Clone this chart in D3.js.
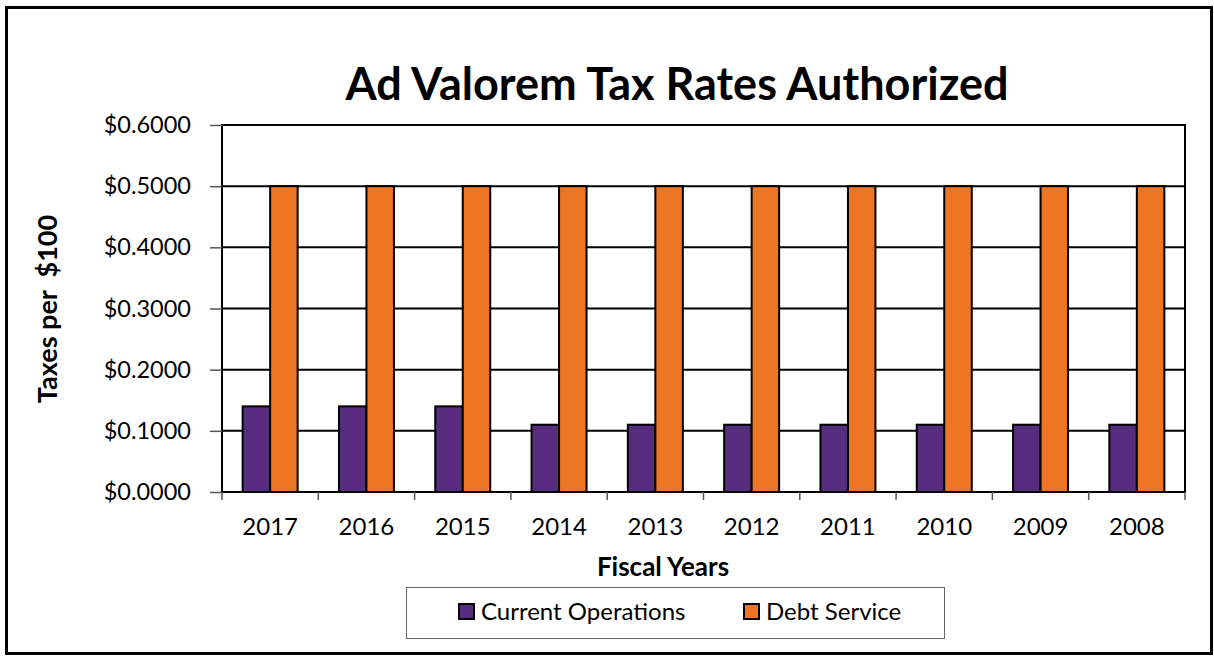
<!DOCTYPE html>
<html><head><meta charset="utf-8">
<script src="https://cdn.jsdelivr.net/npm/d3@7"></script>
<style>body{margin:0;background:#fff}svg{display:block}text{font-family:Lato,"Open Sans",sans-serif}</style>
</head><body><svg id="c" width="1214" height="656"></svg>
<script>
const categories = ["2017","2016","2015","2014","2013","2012","2011","2010","2009","2008"];
const currentOperations = [0.14,0.14,0.14,0.11,0.11,0.11,0.11,0.11,0.11,0.11];
const debtService = [0.50,0.50,0.50,0.50,0.50,0.50,0.50,0.50,0.50,0.50];
const seriesNames = ["Current Operations","Debt Service"];
const seriesColors = ["#562d7f","#ec7623"];
const yTicks = [0,0.1,0.2,0.3,0.4,0.5,0.6];

const svg = d3.select("#c");
// outer frame
svg.append("rect").attr("x",6.5).attr("y",7.5).attr("width",1205).attr("height",646)
  .attr("fill","none").attr("stroke","#000").attr("stroke-width",3);

const L=222,R=1185,T=125,B=492;
const x = d3.scaleBand().domain(categories).range([L,R]);
const y = d3.scaleLinear().domain([0,0.6]).range([B,T]);
const inner = d3.scaleBand().domain([0,1]).range([0,55]);

// gridlines
svg.append("g").selectAll("line").data(yTicks.slice(1)).join("line")
  .attr("x1",L).attr("x2",R).attr("y1",d=>y(d)).attr("y2",d=>y(d))
  .attr("stroke","#000").attr("stroke-width",2);

// bars
const series=[currentOperations,debtService];
series.forEach((vals,si)=>{
  svg.append("g").selectAll("rect").data(categories).join("rect")
    .attr("x",(c)=>x(c)+(x.bandwidth()-55)/2+inner(si))
    .attr("width",inner.bandwidth())
    .attr("y",(c,i)=>y(vals[i]))
    .attr("height",(c,i)=>B-y(vals[i]))
    .attr("fill",seriesColors[si]).attr("stroke","#000").attr("stroke-width",2);
});

// plot border
svg.append("rect").attr("x",L).attr("y",T).attr("width",R-L).attr("height",B-T)
  .attr("fill","none").attr("stroke","#000").attr("stroke-width",2);

// y axis
const yAxis = d3.axisLeft(y).tickValues(yTicks).tickFormat(d=>"$"+d3.format(".4f")(d)).tickSize(12).tickPadding(19);
const gy = svg.append("g").attr("transform",`translate(${L},0)`).call(yAxis);
gy.select(".domain").remove();
gy.selectAll(".tick line").attr("stroke","#555").attr("stroke-width",1.5);
gy.selectAll("text").attr("font-size",23.5).attr("fill","#000");

// x axis
const xAxis = d3.axisBottom(x).tickSize(0).tickPadding(26);
const gx = svg.append("g").attr("transform",`translate(0,${B})`).call(xAxis);
gx.select(".domain").remove();
gx.selectAll("text").attr("font-size",24).attr("fill","#000");
svg.append("g").selectAll("line").data(categories.concat(["_end"])).join("line")
  .attr("x1",(d,i)=>L+i*x.step()).attr("x2",(d,i)=>L+i*x.step())
  .attr("y1",B).attr("y2",B+8).attr("stroke","#555").attr("stroke-width",1.5);

// titles
svg.append("text").attr("x",677).attr("y",100).attr("text-anchor","middle")
  .attr("font-size",45).attr("font-weight","bold").text("Ad Valorem Tax Rates Authorized");
svg.append("text").attr("x",663).attr("y",576).attr("text-anchor","middle")
  .attr("font-size",26).attr("font-weight","bold").text("Fiscal Years");
svg.append("text").attr("transform","translate(57,309) rotate(-90)").attr("text-anchor","middle")
  .attr("font-size",27).attr("font-weight","bold").attr("xml:space","preserve").text("Taxes per  $100");

// legend
const lg = svg.append("g");
lg.append("rect").attr("x",406.5).attr("y",587.5).attr("width",538).attr("height",51)
  .attr("fill","#fff").attr("stroke","#666").attr("stroke-width",1);
const lx=[459,744];
seriesNames.forEach((n,i)=>{
  lg.append("rect").attr("x",lx[i]).attr("y",604).attr("width",15).attr("height",15)
    .attr("fill",seriesColors[i]).attr("stroke","#000").attr("stroke-width",2);
  lg.append("text").attr("x",lx[i]+22).attr("y",620).attr("font-size",24).text(n);
});
</script></body></html>
